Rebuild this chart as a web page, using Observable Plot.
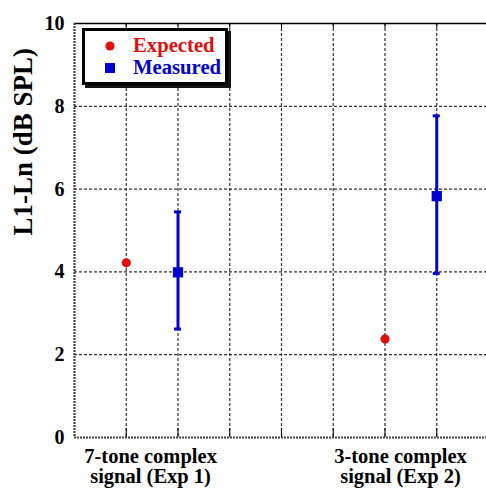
<!DOCTYPE html>
<html>
<head>
<meta charset="utf-8">
<script src="https://cdn.jsdelivr.net/npm/d3@7"></script>
<script src="https://cdn.jsdelivr.net/npm/@observablehq/plot@0.6"></script>
<style>
  body { margin: 0; background: #fff; }
  #wrap { position: relative; width: 486px; height: 488px; overflow: hidden; font-family: "Liberation Serif", "Times New Roman", serif; font-weight: bold; }
  #legend { position: absolute; left: 82px; top: 28px; width: 140px; height: 51px; border: 3px solid #000; box-shadow: 3px 3px 0 #111; background: #fff; }
  .item { position: absolute; left: 48px; font-size: 20.7px; line-height: 1; white-space: nowrap; }
  .sym { position: absolute; }
</style>
</head>
<body>
<div id="wrap"></div>
<script>
// Data
const experiments = ["7-tone complex\nsignal (Exp 1)", "3-tone complex\nsignal (Exp 2)"];
const labelPos = [1.47, 6.3];
const expectedX = [1, 6];
const expectedY = [4.22, 2.38];
const measuredX = [2, 7];
const measuredY = [3.99, 5.83];
const measuredLow = [2.62, 3.96];
const measuredHigh = [5.45, 7.77];
const yTicks = [0, 2, 4, 6, 8, 10];
const yGrid = [2, 4, 6, 8];
const xGrid = [1, 2, 3, 4, 5, 6, 7];
const seriesNames = ["Expected", "Measured"];
const seriesColors = ["#e01010", "#0000d0"];

const expected = expectedX.map((x, i) => ({x, y: expectedY[i]}));
const measured = measuredX.map((x, i) => ({x, y: measuredY[i], lo: measuredLow[i], hi: measuredHigh[i]}));

const chart = Plot.plot({
  width: 486,
  height: 488,
  marginLeft: 74,
  marginRight: -2,
  marginTop: 23,
  marginBottom: 51,
  style: {fontFamily: "'Liberation Serif', 'Times New Roman', serif", fontWeight: "bold", color: "#000", background: "#fff"},
  x: {domain: [0, 8]},
  y: {domain: [0, 10]},
  marks: [
    Plot.gridX(xGrid, {stroke: "#333", strokeOpacity: 1, strokeWidth: 1.2, strokeDasharray: "3,2"}),
    Plot.gridY(yGrid, {stroke: "#333", strokeOpacity: 1, strokeWidth: 1.2, strokeDasharray: "3,2"}),
    Plot.ruleY([10], {stroke: "#000", strokeWidth: 1.5}),
    Plot.ruleY([0], {stroke: "#444", strokeWidth: 2.2, strokeDasharray: "2,1"}),
    Plot.ruleX([0], {stroke: "#444", strokeWidth: 2.2, strokeDasharray: "2,1"}),
    Plot.axisX(xGrid, {anchor: "bottom", tickSize: -9, tickFormat: () => "", stroke: "#000", label: null}),
    Plot.axisX(xGrid, {anchor: "top", tickSize: -4, tickFormat: () => "", stroke: "#000", label: null}),
    Plot.axisY(yTicks, {tickSize: 0, tickPadding: 10, fontSize: 20, tickFormat: d => String(d), label: null}),
    Plot.axisX(labelPos, {anchor: "bottom", tickSize: 0, tickPadding: 11, fontSize: 20.5, lineHeight: 0.98,
      tickFormat: d => experiments[labelPos.indexOf(d)], label: null}),
    Plot.text(["L1-Ln (dB SPL)"], {frameAnchor: "left", rotate: -90, dx: -51, dy: 5, fontSize: 27, fontWeight: "bold"}),
    Plot.ruleX(measured, {x: "x", y1: "lo", y2: "hi", stroke: seriesColors[1], strokeWidth: 3}),
    Plot.ruleY(measured, {y: "lo", x1: "x", x2: "x", insetLeft: -3.5, insetRight: -3.5, stroke: seriesColors[1], strokeWidth: 3}),
    Plot.ruleY(measured, {y: "hi", x1: "x", x2: "x", insetLeft: -3.5, insetRight: -3.5, stroke: seriesColors[1], strokeWidth: 3}),
    Plot.dot(measured, {x: "x", y: "y", symbol: "square", r: 5.8, fill: seriesColors[1], stroke: "none"}),
    Plot.dot(expected, {x: "x", y: "y", symbol: "circle", r: 4.6, fill: seriesColors[0], stroke: "none"})
  ]
});

const wrap = document.getElementById("wrap");
wrap.appendChild(chart);

// Legend
const legend = document.createElement("div");
legend.id = "legend";
const ns = "http://www.w3.org/2000/svg";
seriesNames.forEach((name, i) => {
  const svg = document.createElementNS(ns, "svg");
  svg.setAttribute("width", 14); svg.setAttribute("height", 14);
  svg.setAttribute("class", "sym");
  svg.style.left = "18px";
  svg.style.top = (i === 0 ? 8 : 30) + "px";
  let shape;
  if (i === 0) {
    shape = document.createElementNS(ns, "circle");
    shape.setAttribute("cx", 7); shape.setAttribute("cy", 7); shape.setAttribute("r", 4.6);
  } else {
    shape = document.createElementNS(ns, "rect");
    shape.setAttribute("x", 2); shape.setAttribute("y", 2); shape.setAttribute("width", 10); shape.setAttribute("height", 10);
  }
  shape.setAttribute("fill", seriesColors[i]);
  svg.appendChild(shape);
  legend.appendChild(svg);
  const t = document.createElement("div");
  t.className = "item";
  t.style.top = (i === 0 ? 4 : 26) + "px";
  t.style.color = seriesColors[i];
  t.textContent = name;
  legend.appendChild(t);
});
wrap.appendChild(legend);
</script>
</body>
</html>
